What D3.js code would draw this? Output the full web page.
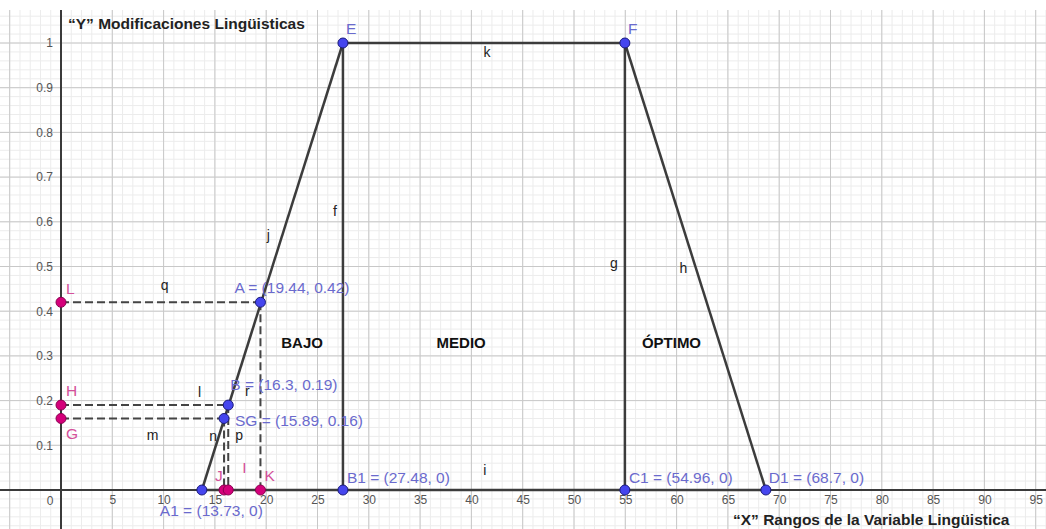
<!DOCTYPE html>
<html>
<head>
<meta charset="utf-8">
<script src="https://cdn.jsdelivr.net/npm/d3@7"></script>
<style>
  body { margin: 0; background: #fff; }
  svg text { font-family: "Liberation Sans", Arial, sans-serif; }
</style>
</head>
<body>
<div id="chart-area"></div>
<script>

// Data

var xTicks = [5, 10, 15, 20, 25, 30, 35, 40, 45, 50, 55, 60, 65, 70, 75, 80, 85, 90, 95];
var yTicks = [0.1, 0.2, 0.3, 0.4, 0.5, 0.6, 0.7, 0.8, 0.9, 1];

// blue points (with coordinates shown when showCoords)
var bluePoints = [
  {name: "E",  x: 27.48, y: 1,    showCoords: false},
  {name: "F",  x: 54.96, y: 1,    showCoords: false},
  {name: "A",  x: 19.44, y: 0.42, showCoords: true},
  {name: "B",  x: 16.3,  y: 0.19, showCoords: true},
  {name: "SG", x: 15.89, y: 0.16, showCoords: true},
  {name: "A1", x: 13.73, y: 0,    showCoords: true},
  {name: "B1", x: 27.48, y: 0,    showCoords: true},
  {name: "C1", x: 54.96, y: 0,    showCoords: true},
  {name: "D1", x: 68.7,  y: 0,    showCoords: true}
];

// pink projection points
var pinkPoints = [
  {name: "L", x: 0,     y: 0.42},
  {name: "H", x: 0,     y: 0.19},
  {name: "G", x: 0,     y: 0.16},
  {name: "J", x: 15.89, y: 0},
  {name: "I", x: 16.3,  y: 0},
  {name: "K", x: 19.44, y: 0}
];

var solidSegments = [
  {name: "i", from: "A1", to: "D1"},
  {name: "j", from: "A1", to: "E"},
  {name: "k", from: "E",  to: "F"},
  {name: "f", from: "E",  to: "B1"},
  {name: "g", from: "F",  to: "C1"},
  {name: "h", from: "F",  to: "D1"}
];

var dashedSegments = [
  {name: "q", from: "L",  to: "A"},
  {name: "l", from: "H",  to: "B"},
  {name: "m", from: "G",  to: "SG"},
  {name: "n", from: "SG", to: "J"},
  {name: "p", from: "B",  to: "I"},
  {name: "r", from: "A",  to: "K"}
];

var zones = [
  {label: "BAJO",   x: 23.5},
  {label: "MEDIO",  x: 39},
  {label: "ÓPTIMO", x: 59.5}
];
var zoneY = 0.33;

var yTitle = "\u201CY\u201D Modificaciones Lingüisticas";
var xTitle = "\u201CX\u201D Rangos de la Variable Lingüistica";

// label offsets in pixels (text left / baseline relative to point)
var pointLabelOffset = {
  E: [3, -9], F: [3, -9], A: [-26, -9], B: [2, -15], SG: [11, 8],
  A1: [-42, 26], B1: [4, -7], C1: [4, -7], D1: [3, -7],
  L: [5, -8], H: [5, -9], G: [5, 21], J: [-9, -9], I: [14, -17], K: [4, -9]
};
// segment label offsets from segment midpoint (text centre)
var segLabelOffset = {
  i: [1, -20], j: [-4, -31], k: [3, 9], f: [-8, -55], g: [-11, -3], h: [-12, 2],
  q: [4, -17], l: [55, -13], m: [10, 17], n: [-11, -18], p: [11, -12], r: [-13, -5]
};

// SVG drawing area

var width = 1046, height = 529;
var gridTop = 10;

var svg = d3.select("#chart-area").append("svg")
    .attr("width", width)
    .attr("height", height);

// Scales
var x = d3.scaleLinear().domain([0, 95]).range([61, 1035.7]);
var y = d3.scaleLinear().domain([0, 1]).range([490, 43]);

var xMin = x.invert(0), xMax = x.invert(width);
var yMin = y.invert(height), yMax = y.invert(gridTop);

// grid (minor then major)
var minorX = d3.range(Math.ceil(xMin), xMax, 1);
var minorY = d3.range(Math.ceil(yMin / 0.02) * 0.02, yMax, 0.02);
var majorX = d3.range(Math.ceil(xMin / 5) * 5, xMax, 5);
var majorY = d3.range(Math.ceil(yMin / 0.1) * 0.1, yMax, 0.1);

var grid = svg.append("g").attr("class", "grid");

grid.selectAll(".minor-x").data(minorX).enter().append("line")
    .attr("x1", function(d) { return x(d); })
    .attr("x2", function(d) { return x(d); })
    .attr("y1", gridTop).attr("y2", height)
    .attr("stroke", "#ececec").attr("stroke-width", 1);

grid.selectAll(".minor-y").data(minorY).enter().append("line")
    .attr("y1", function(d) { return y(d); })
    .attr("y2", function(d) { return y(d); })
    .attr("x1", 0).attr("x2", width)
    .attr("stroke", "#ececec").attr("stroke-width", 1);

grid.selectAll(".major-x").data(majorX).enter().append("line")
    .attr("x1", function(d) { return x(d); })
    .attr("x2", function(d) { return x(d); })
    .attr("y1", gridTop).attr("y2", height)
    .attr("stroke", "#c8c8c8").attr("stroke-width", 1);

grid.selectAll(".major-y").data(majorY).enter().append("line")
    .attr("y1", function(d) { return y(d); })
    .attr("y2", function(d) { return y(d); })
    .attr("x1", 0).attr("x2", width)
    .attr("stroke", "#c8c8c8").attr("stroke-width", 1);

// axes
var xAxis = d3.axisBottom(x).tickValues(xTicks).tickSize(0).tickPadding(5);
var yAxis = d3.axisLeft(y).tickValues(yTicks).tickSize(0).tickPadding(8)
    .tickFormat(function(d) { return String(+d.toFixed(2)); });

var xAxisGroup = svg.append("g")
    .attr("transform", "translate(0," + y(0) + ")")
    .call(xAxis);
var yAxisGroup = svg.append("g")
    .attr("transform", "translate(" + x(0) + ",0)")
    .call(yAxis);

[xAxisGroup, yAxisGroup].forEach(function(g) {
  g.select(".domain").remove();
  g.selectAll("text")
      .attr("fill", "#555")
      .attr("font-size", 12)
      .attr("font-family", "Liberation Sans, Arial, sans-serif");
});

svg.append("text")
    .attr("x", x(0) - 11).attr("y", y(0) + 15)
    .attr("text-anchor", "middle")
    .attr("fill", "#555").attr("font-size", 12)
    .text("0");

svg.append("line")
    .attr("x1", 0).attr("x2", width)
    .attr("y1", y(0)).attr("y2", y(0))
    .attr("stroke", "#3a3a3a").attr("stroke-width", 2);
svg.append("line")
    .attr("x1", x(0)).attr("x2", x(0))
    .attr("y1", gridTop).attr("y2", height)
    .attr("stroke", "#3a3a3a").attr("stroke-width", 2);

// point lookup
var allPoints = {};
bluePoints.concat(pinkPoints).forEach(function(p) { allPoints[p.name] = p; });

function mid(s) {
  var a = allPoints[s.from], b = allPoints[s.to];
  return [x((a.x + b.x) / 2), y((a.y + b.y) / 2)];
}

// solid segments
svg.selectAll(".seg").data(solidSegments).enter().append("line")
    .attr("class", "seg")
    .attr("x1", function(d) { return x(allPoints[d.from].x); })
    .attr("y1", function(d) { return y(allPoints[d.from].y); })
    .attr("x2", function(d) { return x(allPoints[d.to].x); })
    .attr("y2", function(d) { return y(allPoints[d.to].y); })
    .attr("stroke", "#3c3c3c")
    .attr("stroke-width", 2.5);

// dashed segments
svg.selectAll(".dseg").data(dashedSegments).enter().append("line")
    .attr("class", "dseg")
    .attr("x1", function(d) { return x(allPoints[d.from].x); })
    .attr("y1", function(d) { return y(allPoints[d.from].y); })
    .attr("x2", function(d) { return x(allPoints[d.to].x); })
    .attr("y2", function(d) { return y(allPoints[d.to].y); })
    .attr("stroke", "#444")
    .attr("stroke-width", 2)
    .attr("stroke-dasharray", "8,4");

// segment labels
svg.selectAll(".seg-label").data(solidSegments.concat(dashedSegments)).enter().append("text")
    .attr("class", "seg-label")
    .attr("x", function(d) { return mid(d)[0] + segLabelOffset[d.name][0]; })
    .attr("y", function(d) { return mid(d)[1] + segLabelOffset[d.name][1]; })
    .attr("dy", "0.35em")
    .attr("text-anchor", "middle")
    .attr("font-size", 14)
    .attr("fill", "#222")
    .text(function(d) { return d.name; });

// zone labels
svg.selectAll(".zone").data(zones).enter().append("text")
    .attr("x", function(d) { return x(d.x); })
    .attr("y", y(zoneY))
    .attr("dy", "0.35em")
    .attr("text-anchor", "middle")
    .attr("font-size", 15)
    .attr("font-weight", "bold")
    .attr("fill", "#111")
    .text(function(d) { return d.label; });

// points
svg.selectAll(".pink").data(pinkPoints).enter().append("circle")
    .attr("cx", function(d) { return x(d.x); })
    .attr("cy", function(d) { return y(d.y); })
    .attr("r", 5)
    .attr("fill", "#d4007a")
    .attr("stroke", "#8a0050")
    .attr("stroke-width", 1);

svg.selectAll(".blue").data(bluePoints).enter().append("circle")
    .attr("cx", function(d) { return x(d.x); })
    .attr("cy", function(d) { return y(d.y); })
    .attr("r", 5)
    .attr("fill", "#4545ee")
    .attr("stroke", "#1a1a7a")
    .attr("stroke-width", 1);

// point labels
svg.selectAll(".pink-label").data(pinkPoints).enter().append("text")
    .attr("x", function(d) { return x(d.x) + pointLabelOffset[d.name][0]; })
    .attr("y", function(d) { return y(d.y) + pointLabelOffset[d.name][1]; })
    .attr("font-size", 15.5)
    .attr("fill", "#d4509a")
    .text(function(d) { return d.name; });

svg.selectAll(".blue-label").data(bluePoints).enter().append("text")
    .attr("x", function(d) { return x(d.x) + pointLabelOffset[d.name][0]; })
    .attr("y", function(d) { return y(d.y) + pointLabelOffset[d.name][1]; })
    .attr("font-size", 15.5)
    .attr("fill", "#6a6acd")
    .text(function(d) {
      return d.showCoords ? d.name + " = (" + d.x + ", " + d.y + ")" : d.name;
    });

// axis titles
svg.append("text")
    .attr("x", 68).attr("y", 29)
    .attr("font-size", 15.5)
    .attr("font-weight", "bold")
    .attr("fill", "#222")
    .text(yTitle);

svg.append("text")
    .attr("x", 733).attr("y", 525)
    .attr("font-size", 15.5)
    .attr("font-weight", "bold")
    .attr("fill", "#222")
    .text(xTitle);

</script>
</body>
</html>
